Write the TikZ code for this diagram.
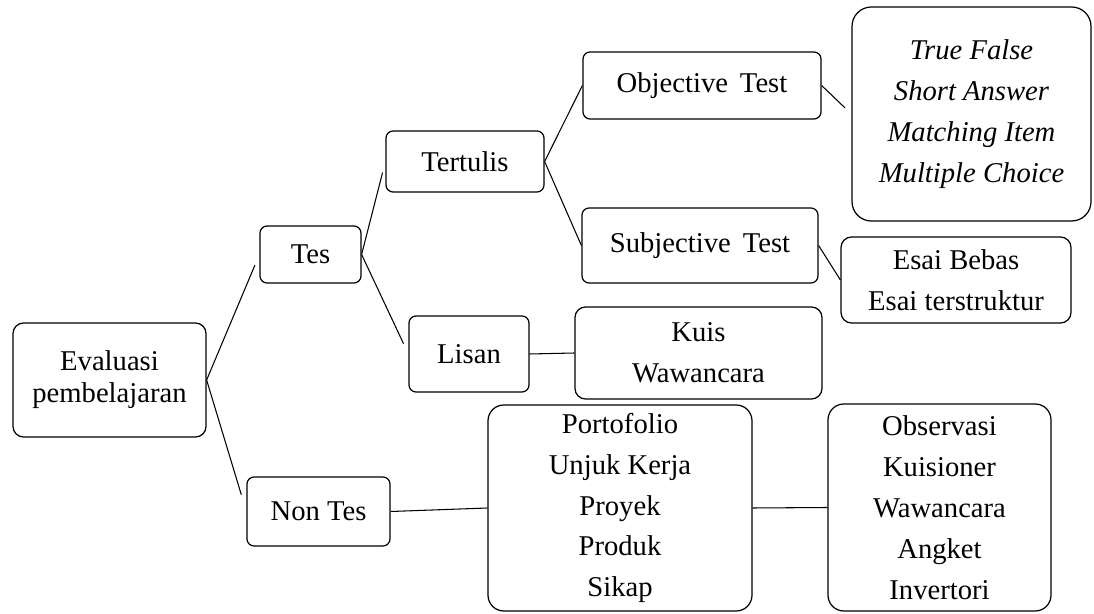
\documentclass[tikz,border=0pt]{standalone}
\usepackage{fontspec}
\setmainfont{Liberation Serif}
\usepackage{tikz}
\usetikzlibrary{positioning,calc}
\tikzset{
  kotak/.style={draw=black,line width=0.7pt,rounded corners=4pt,
    inner sep=0pt,align=center,
    font=\fontsize{16.3}{18.2}\selectfont},
  daftar/.style={kotak,font=\fontsize{16.3}{23.3}\selectfont},
  garis/.style={line width=0.6pt},
  cabang/.style={garis,shorten >=6.5pt},
}

\begin{document}
\begin{tikzpicture}
\useasboundingbox (0,0) rectangle (21.88,-12.28);
% level 1
\node[kotak,minimum width=3.86cm,minimum height=2.28cm,rounded corners=6pt]
  (evaluasi) at (2.19,-7.60) {Evaluasi\\pembelajaran};
% level 2
\node[kotak,minimum width=2.02cm,minimum height=1.14cm]
  (tes) at (6.21,-5.09) {Tes};
\node[kotak,minimum width=2.86cm,minimum height=1.38cm]
  (nontes) at (6.37,-10.23) {Non Tes};
% level 3
\node[kotak,minimum width=3.16cm,minimum height=1.22cm]
  (tertulis) at (9.30,-3.23) {Tertulis};
\node[kotak,minimum width=2.40cm,minimum height=1.52cm]
  (lisan) at (9.38,-7.08) {Lisan};
\node[daftar,minimum width=5.28cm,minimum height=4.12cm,rounded corners=9pt]
  (jenisnontes) at (12.40,-10.16)
  {Portofolio\\Unjuk Kerja\\Proyek\\Produk\\Sikap};
% level 4
\node[kotak,minimum width=4.76cm,minimum height=1.34cm]
  (objektif) at (14.04,-1.71) {Objective\, Test};
\node[kotak,minimum width=4.72cm,minimum height=1.50cm]
  (subjektif) at (14.00,-4.91) {Subjective\, Test};
\node[daftar,minimum width=4.94cm,minimum height=1.84cm,rounded corners=6pt]
  (jenislisan) at (13.97,-7.06) {Kuis\\Wawancara};
\node[daftar,minimum width=4.46cm,minimum height=4.14cm,rounded corners=9pt]
  (instrumen) at (18.79,-10.15)
  {Observasi\\Kuisioner\\Wawancara\\Angket\\Invertori};
% level 5
\node[daftar,minimum width=4.78cm,minimum height=4.28cm,rounded corners=11pt]
  (jenisobjektif) at (19.43,-2.28)
  {\itshape True False\\\itshape Short Answer\\\itshape Matching Item\\\itshape Multiple Choice};
\node[daftar,minimum width=4.60cm,minimum height=1.72cm,rounded corners=6pt]
  (jenisesai) at (19.12,-5.60) {Esai Bebas\\Esai terstruktur};
% connectors
\draw[cabang](evaluasi.east)--(tes.west);
\draw[cabang,shorten >=10pt](evaluasi.east)--(nontes.west);
\draw[cabang](tes.east)--(tertulis.west);
\draw[cabang](tes.east)--(lisan.west);
\draw[garis](tertulis.east)--(objektif.west);
\draw[garis](tertulis.east)--(subjektif.west);
\draw[cabang,shorten >=5pt](objektif.east)--(jenisobjektif.west);
\draw[garis](subjektif.east)--(jenisesai.west);
\draw[garis](lisan.east)--(jenislisan.west);
\draw[garis](nontes.east)--(jenisnontes.west);
\draw[garis](jenisnontes.east)--(instrumen.west);
\end{tikzpicture}
\end{document}
